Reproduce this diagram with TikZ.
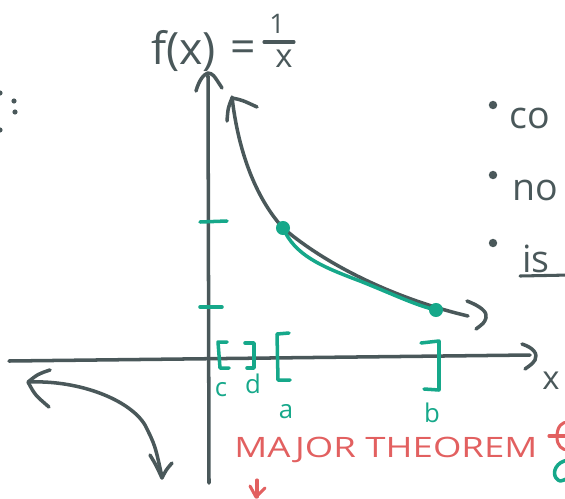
\documentclass[tikz,border=0pt]{standalone}
\usepackage{fontspec}
\setmainfont{Open Sans}
\usetikzlibrary{calc}
\definecolor{SketchGray}{RGB}{74,88,90}
\definecolor{SketchTeal}{RGB}{22,168,138}
\definecolor{SketchRed}{RGB}{226,96,96}

\begin{document}
\begin{tikzpicture}[x=0.03cm, y=-0.03cm, line cap=round, line join=round]
    \tikzstyle{ink}=[draw=SketchGray, line width=3pt]
    \tikzstyle{hilite}=[draw=SketchTeal, line width=3pt]
    \tikzstyle{redink}=[draw=SketchRed, line width=2.6pt]
    \tikzstyle{lbl}=[text=SketchTeal, inner sep=0pt, font=\fontsize{22}{22}\selectfont]
    \tikzstyle{word}=[text=SketchGray, inner sep=0pt, anchor=base west, font=\fontsize{32}{32}\selectfont]

    \useasboundingbox (0,0) rectangle (565,498);
    \clip (0,0) rectangle (565,498);

    % title f(x) = 1/x
    \node[word, font=\fontsize{38}{38}\selectfont] (fx) at (151,64) {f(x)};
    \node[text=SketchGray, inner sep=0pt, anchor=base, font=\fontsize{38}{38}\selectfont] (eq) at (243,62) {=};
    \node[text=SketchGray, inner sep=0pt, anchor=base, font=\fontsize{23}{23}\selectfont] (one) at (277,33) {1};
    \node[text=SketchGray, inner sep=0pt, anchor=base, font=\fontsize{28}{28}\selectfont] (den) at (284,67) {x};
    \draw[ink, line width=2.6pt] (264,42) -- (294,42);

    % colon at the left edge
    \foreach \px/\py in {14/101, 15/112, 0/93, 0/130}
        \fill[SketchGray] (\px,\py) circle (2.2pt);

    % axes
    \draw[ink] (9,361) -- (530,355);
    \draw[ink] (522,344) .. controls (534,348) and (538,354) .. (535,360) .. controls (532,364) .. (525,369);
    \node[text=SketchGray, inner sep=0pt, anchor=base, font=\fontsize{28}{28}\selectfont] (xlbl) at (551,389) {x};
    \draw[ink] (209,483) -- (208,76);
    \draw[ink] (196,91) .. controls (199,80) and (204,74) .. (208,73) .. controls (213,74) .. (222,88);

    % ticks on the y axis
    \draw[hilite] (200,222) -- (227,221);
    \draw[hilite] (200,307) -- (222,307);

    % branch in the first quadrant
    \coordinate (pa) at (283,228);
    \coordinate (pb) at (436,310);
    \draw[ink] (232,97) .. controls (238,150) and (255,197) .. (pa) .. controls (330,268) and (400,300) .. (468,316);
    \draw[ink] (227,121) .. controls (228,108) .. (232,98) .. controls (242,100) .. (257,107);
    \draw[ink] (467,301) .. controls (480,306) and (488,312) .. (486,318) .. controls (484,323) .. (476,329);

    % highlighted piece between the two points
    \draw[hilite] (pa) .. controls (295,255) and (320,266) .. (360,281) .. controls (395,295) and (415,305) .. (pb);
    \fill[SketchTeal] (pa) circle (6pt);
    \fill[SketchTeal] (pb) circle (6pt);

    % branch in the third quadrant
    \draw[ink] (29,382) .. controls (80,380) and (130,400) .. (145,425) .. controls (155,445) .. (162,477);
    \draw[ink] (50,370) .. controls (38,374) .. (28,382) .. controls (35,395) .. (49,407);
    \draw[ink] (150,455) .. controls (156,465) .. (162,478) .. controls (166,470) .. (172,463);

    % intervals [c,d] and [a,b]
    \draw[hilite] (227,342) -- (218,342) -- (220,368) -- (229,368);
    \draw[hilite] (245,343) -- (254,343) -- (254,368) -- (247,368);
    \draw[hilite] (289,333) -- (277,334) -- (278,380) -- (290,380);
    \draw[hilite] (421,343) -- (439,341) -- (439,390) -- (424,389);
    \node[lbl, anchor=base] (c) at (221,396) {c};
    \node[lbl, anchor=base] (d) at (253,393) {d};
    \node[lbl, anchor=base] (a) at (286,418) {a};
    \node[lbl, anchor=base] (b) at (432,422) {b};

    % list on the right
    \foreach \by in {105, 175, 243}
        \fill[SketchGray] (493,\by) circle (3.6pt);
    \node[word] (w1) at (509,128) {co};
    \node[word] (w2) at (512,200) {no};
    \node[word] (w3) at (522,272) {is};
    \draw[ink, line width=2.6pt] (520,276) -- (570,275);

    % red note
    \node[text=SketchRed, inner sep=0pt, anchor=base west, xscale=1.3, transform shape,
          font=\fontsize{24}{24}\selectfont] (thm) at (234,457) {MAJOR THEOREM};
    \draw[redink] (557,437) .. controls (557,426) and (562,422) .. (568,422);
    \draw[redink] (557,437) .. controls (557,446) and (562,450) .. (568,450);
    \draw[redink] (549,436) -- (568,436);
    \draw[redink] (257,480) -- (257,497);
    \draw[redink] (250,486) -- (256,497) -- (265,488);

    % teal stroke at the lower right
    \draw[hilite] (568,460) .. controls (556,462) and (552,472) .. (556,478) .. controls (560,482) .. (568,478);
\end{tikzpicture}
\end{document}
